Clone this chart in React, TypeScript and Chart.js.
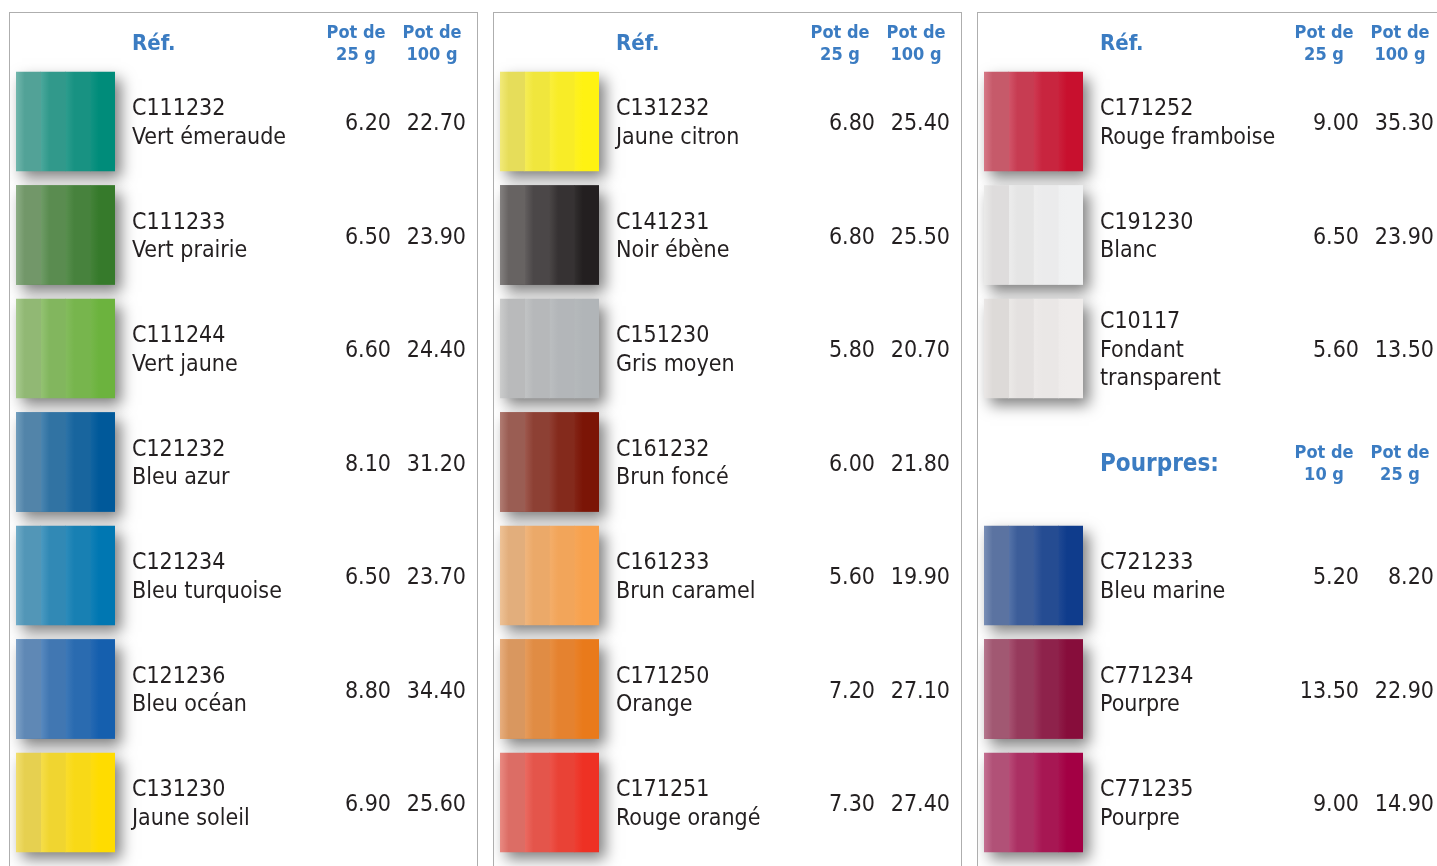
import React, { useEffect, useRef } from "react";
import { Chart, registerables } from "chart.js";
Chart.register(...registerables);

// ---------- DATA ----------
const headerRef = "Réf.";
const headerPot25 = ["Pot de", "25 g"];
const headerPot100 = ["Pot de", "100 g"];
const sectionTitle = "Pourpres:";
const sectionPot10 = ["Pot de", "10 g"];
const sectionPot25 = ["Pot de", "25 g"];

const panel1Codes = ["C111232", "C111233", "C111244", "C121232", "C121234", "C121236", "C131230"];
const panel1Names = ["Vert émeraude", "Vert prairie", "Vert jaune", "Bleu azur", "Bleu turquoise", "Bleu océan", "Jaune soleil"];
const panel1Pot25 = ["6.20", "6.50", "6.60", "8.10", "6.50", "8.80", "6.90"];
const panel1Pot100 = ["22.70", "23.90", "24.40", "31.20", "23.70", "34.40", "25.60"];
const panel1Colors = ["#008c7a", "#367a2b", "#6cb33e", "#00599a", "#0077b2", "#155fae", "#ffdc00"];

const panel2Codes = ["C131232", "C141231", "C151230", "C161232", "C161233", "C171250", "C171251"];
const panel2Names = ["Jaune citron", "Noir ébène", "Gris moyen", "Brun foncé", "Brun caramel", "Orange", "Rouge orangé"];
const panel2Pot25 = ["6.80", "6.80", "5.80", "6.00", "5.60", "7.20", "7.30"];
const panel2Pot100 = ["25.40", "25.50", "20.70", "21.80", "19.90", "27.10", "27.40"];
const panel2Colors = ["#fff212", "#231f20", "#b1b5b8", "#7b1506", "#f8a14c", "#e97a1b", "#ee3124"];

// row index 3 of panel 3 is the "Pourpres:" section header (no swatch)
const panel3Codes = ["C171252", "C191230", "C10117", "", "C721233", "C771234", "C771235"];
const panel3Names = ["Rouge framboise", "Blanc", "Fondant\ntransparent", "", "Bleu marine", "Pourpre", "Pourpre"];
const panel3Pot25 = ["9.00", "6.50", "5.60", "", "5.20", "13.50", "9.00"];
const panel3Pot100 = ["35.30", "23.90", "13.50", "", "8.20", "22.90", "14.90"];
const panel3Colors = ["#c8102e", "#f0f1f2", "#efeceb", "", "#0f3c8c", "#870d3b", "#a30044"];
const panel3SectionRow = 3;

const stripeValues = [1, 1, 1, 1];
const stripeMix = [0.42, 0.25, 0.12, 0];

// ---------- STYLE ----------
const FONT = '"DejaVu Sans Condensed", "DejaVu Sans", Verdana, sans-serif';
const TEXT = "#231f20";
const BLUE = "#3b7cc2";
const CANVAS_W = 467;
const CANVAS_H = 860;
const SW_LEFT = 6;
const SW_SIZE = 99;
const AREA_TOP = 51.75;
const AREA_BOTTOM = 846.25;

function hexToRgb(h: string) {
  const n = parseInt(h.slice(1), 16);
  return [(n >> 16) & 255, (n >> 8) & 255, n & 255];
}
function mix(c: string, m: number[], t: number, alpha = 1) {
  const a = hexToRgb(c);
  const r = a.map((v, i) => Math.round(v * (1 - t) + m[i] * t));
  return `rgba(${r[0]},${r[1]},${r[2]},${alpha})`;
}
const GREY = [196, 192, 190];
const LIGHT = [228, 226, 224];

type PanelProps = {
  left: number;
  codes: string[];
  names: string[];
  pot25: string[];
  pot100: string[];
  colors: string[];
  sectionRow?: number;
};

function Panel({ left, codes, names, pot25, pot100, colors, sectionRow }: PanelProps) {
  const ref = useRef<HTMLCanvasElement | null>(null);
  useEffect(() => {
    if (!ref.current) return;
    const plugin = {
      id: "panelDecor",
      beforeDatasetsDraw(chart: any) {
        const ctx = chart.ctx;
        const xs = chart.scales.x;
        const meta = chart.getDatasetMeta(0);
        ctx.save();
        colors.forEach((c, i) => {
          if (!c) return;
          const el = meta.data[i];
          const h = el.height;
          const x0 = xs.getPixelForValue(0);
          const x1 = xs.getPixelForValue(stripeValues.length);
          ctx.shadowColor = "rgba(0,0,0,0.5)";
          ctx.shadowBlur = 14;
          ctx.shadowOffsetX = 6;
          ctx.shadowOffsetY = 7;
          ctx.fillStyle = c;
          ctx.fillRect(x0, el.y - h / 2, x1 - x0, h);
        });
        ctx.restore();
      },
      afterDraw(chart: any) {
        const ctx = chart.ctx;
        const ys = chart.scales.y;
        const tx = SW_LEFT + 116;
        const c1 = 346;
        const c2 = 422;
        const r1 = 381;
        const r2 = 456;
        ctx.save();
        ctx.textBaseline = "alphabetic";
        // header
        ctx.fillStyle = BLUE;
        ctx.font = `bold 22px ${FONT}`;
        ctx.textAlign = "left";
        ctx.fillText(headerRef, tx, 37);
        ctx.font = `bold 18px ${FONT}`;
        ctx.textAlign = "center";
        headerPot25.forEach((s, k) => ctx.fillText(s, c1, 25 + k * 22));
        headerPot100.forEach((s, k) => ctx.fillText(s, c2, 25 + k * 22));
        // rows
        codes.forEach((code, i) => {
          const yc = ys.getPixelForValue(i);
          if (i === sectionRow) {
            ctx.fillStyle = BLUE;
            ctx.font = `bold 24px ${FONT}`;
            ctx.textAlign = "left";
            ctx.fillText(sectionTitle, tx, yc + 9);
            ctx.font = `bold 18px ${FONT}`;
            ctx.textAlign = "center";
            sectionPot10.forEach((s, k) => ctx.fillText(s, c1, yc - 4 + k * 22));
            sectionPot25.forEach((s, k) => ctx.fillText(s, c2, yc - 4 + k * 22));
            return;
          }
          const lines = [code, ...names[i].split("\n")];
          ctx.fillStyle = TEXT;
          ctx.font = `23px ${FONT}`;
          ctx.textAlign = "left";
          const first = yc + 8 - ((lines.length - 1) * 28.5) / 2;
          lines.forEach((s, k) => ctx.fillText(s, tx, first + k * 28.5));
          ctx.textAlign = "right";
          ctx.fillText(pot25[i], r1, yc + 8.5);
          ctx.fillText(pot100[i], r2, yc + 8.5);
        });
        ctx.restore();
      },
    };

    const datasets = stripeValues.map((v, j) => ({
      label: `stripe${j}`,
      data: colors.map((c) => (c ? v : null)),
      borderWidth: 0,
      barThickness: SW_SIZE,
      backgroundColor: (ctx: any) => {
        const c = colors[ctx.dataIndex];
        if (!c) return "rgba(0,0,0,0)";
        const base = mix(c, GREY, stripeMix[j]);
        const chart = ctx.chart;
        const xs = chart.scales && chart.scales.x;
        if (!chart.chartArea || !xs) return base;
        const a = xs.getPixelForValue(j);
        const b = xs.getPixelForValue(j + 1);
        const g = chart.ctx.createLinearGradient(a, 0, b, 0);
        g.addColorStop(0, mix(c, LIGHT, Math.min(1, stripeMix[j] + 0.08)));
        g.addColorStop(0.35, base);
        g.addColorStop(1, base);
        return g;
      },
    }));

    const chart = new Chart(ref.current, {
      type: "bar",
      data: { labels: codes.map((c, i) => c || `row${i}`), datasets },
      options: {
        indexAxis: "y",
        animation: false,
        responsive: false,
        maintainAspectRatio: false,
        events: [],
        layout: {
          padding: {
            left: SW_LEFT,
            right: CANVAS_W - SW_LEFT - SW_SIZE,
            top: AREA_TOP,
            bottom: CANVAS_H - AREA_BOTTOM,
          },
        },
        scales: {
          x: { type: "linear", stacked: true, min: 0, max: stripeValues.length, display: false },
          y: { type: "category", stacked: true, display: false, offset: true },
        },
        plugins: { legend: { display: false }, tooltip: { enabled: false } },
      },
      plugins: [plugin],
    } as any);
    return () => chart.destroy();
  }, []);

  return (
    <div
      style={{
        position: "absolute",
        left,
        top: 12,
        width: CANVAS_W,
        height: CANVAS_H,
        border: "1px solid #aeaeae",
        background: "#fff",
      }}
    >
      <canvas ref={ref} width={CANVAS_W} height={CANVAS_H} style={{ display: "block", width: CANVAS_W, height: CANVAS_H }} />
    </div>
  );
}

export default function App() {
  return (
    <div style={{ position: "fixed", left: 0, top: 0, width: "100vw", height: "100vh", overflow: "hidden", background: "#fff" }}>
      <Panel left={9} codes={panel1Codes} names={panel1Names} pot25={panel1Pot25} pot100={panel1Pot100} colors={panel1Colors} />
      <Panel left={493} codes={panel2Codes} names={panel2Names} pot25={panel2Pot25} pot100={panel2Pot100} colors={panel2Colors} />
      <Panel
        left={977}
        codes={panel3Codes}
        names={panel3Names}
        pot25={panel3Pot25}
        pot100={panel3Pot100}
        colors={panel3Colors}
        sectionRow={panel3SectionRow}
      />
    </div>
  );
}
